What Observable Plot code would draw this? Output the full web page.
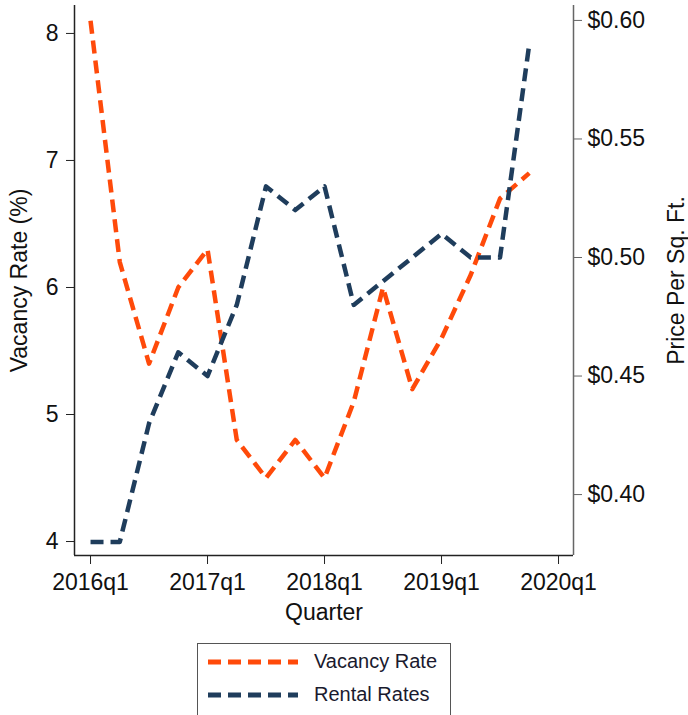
<!DOCTYPE html>
<html>
<head>
<meta charset="utf-8">
<script src="https://cdn.jsdelivr.net/npm/d3@7"></script>
<script src="https://cdn.jsdelivr.net/npm/@observablehq/plot@0.6"></script>
<style>
  html, body { margin: 0; padding: 0; background: #fff; }
  #wrap { position: relative; width: 688px; height: 715px; overflow: hidden; font-family: "Liberation Sans", Arial, sans-serif; }
  #wrap svg { position: absolute; left: 0; top: 0; }
  #legend { position: absolute; left: 197px; top: 643px; width: 254px; height: 90px; border: 1.5px solid #555; box-sizing: border-box; background: #fff; }
  .row { position: absolute; left: 8px; display: flex; align-items: center; font-size: 20px; color: #1a1a2e; }
  .row svg { position: static !important; margin-right: 16px; }
</style>
</head>
<body>
<div id="wrap"><div id="legend"></div></div>
<script>
const quarters = ["2016q1","2016q2","2016q3","2016q4","2017q1","2017q2","2017q3","2017q4",
                  "2018q1","2018q2","2018q3","2018q4","2019q1","2019q2","2019q3","2019q4"];
const vacancyRate = [8.1, 6.2, 5.4, 6.0, 6.3, 4.8, 4.5, 4.8, 4.5, 5.1, 6.0, 5.2, 5.6, 6.1, 6.7, 6.9];
const rentalRates = [0.38, 0.38, 0.43, 0.46, 0.45, 0.48, 0.53, 0.52, 0.53, 0.48, 0.49, 0.50, 0.51, 0.50, 0.50, 0.59];
const xTicks = [2016, 2017, 2018, 2019, 2020];
const leftTicks = [4, 5, 6, 7, 8];
const rightTicks = [0.40, 0.45, 0.50, 0.55, 0.60];
const seriesNames = ["Vacancy Rate", "Rental Rates"];
const colors = ["#ff4a0a", "#1f3d5c"];

const toNum = q => +q.slice(0, 4) + (+q.slice(5) - 1) / 4;
const vacData = quarters.map((q, i) => ({x: toNum(q), y: vacancyRate[i]}));
const rentData = quarters.map((q, i) => ({x: toNum(q), y: rentalRates[i]}));

const W = 688, H = 625;
const margins = {marginLeft: 74, marginRight: 115, marginTop: 5, marginBottom: 70};
const xDomain = [2015.863, 2020.128];
const yLeftDomain = [3.890, 8.220];
const yRightDomain = [0.3743, 0.6063];
const font = {fontSize: "23px", fontFamily: "'Liberation Sans', Arial, sans-serif", background: "transparent", color: "#111"};

const p1 = Plot.plot({
  width: W, height: H, ...margins, style: font,
  x: {domain: xDomain},
  y: {domain: yLeftDomain},
  marks: [
    Plot.ruleX([xDomain[0]], {stroke: "#222", strokeWidth: 1.5}),
    Plot.ruleY([yLeftDomain[0]], {stroke: "#222", strokeWidth: 1.5}),
    Plot.axisX({ticks: xTicks, tickFormat: d => d + "q1", tickSize: 9, tickPadding: 9, fontSize: 23,
      label: "Quarter", labelAnchor: "center", labelArrow: "none", labelOffset: 64, stroke: "#222"}),
    Plot.axisY({ticks: leftTicks, tickFormat: d => String(d), tickSize: 8, tickPadding: 8, fontSize: 23,
      label: "Vacancy Rate (%)", labelAnchor: "center", labelArrow: "none", labelOffset: 64, stroke: "#222"}),
    Plot.line(vacData, {x: "x", y: "y", stroke: colors[0], strokeWidth: 4.5, strokeDasharray: "13,7", strokeLinecap: "butt"})
  ]
});

const p2 = Plot.plot({
  width: W, height: H, ...margins, style: font,
  x: {domain: xDomain, axis: null},
  y: {domain: yRightDomain},
  marks: [
    Plot.ruleX([xDomain[1]], {stroke: "#666", strokeWidth: 1.5}),
    Plot.axisY({anchor: "right", ticks: rightTicks, tickFormat: d => "$" + d.toFixed(2), tickSize: 8, tickPadding: 6, fontSize: 23,
      label: "Price Per Sq. Ft.", labelAnchor: "center", labelArrow: "none", labelOffset: 110, stroke: "#666"}),
    Plot.line(rentData, {x: "x", y: "y", stroke: colors[1], strokeWidth: 4.5, strokeDasharray: "13,7", strokeLinecap: "butt"})
  ]
});

const wrap = document.getElementById("wrap");
wrap.insertBefore(p2, wrap.firstChild);
wrap.insertBefore(p1, wrap.firstChild);

const legend = document.getElementById("legend");
seriesNames.forEach((name, i) => {
  const row = document.createElement("div");
  row.className = "row";
  row.style.top = (i === 0 ? 6 : 39) + "px";
  row.innerHTML = `<svg width="92" height="12"><line x1="2" y1="6" x2="92" y2="6" stroke="${colors[i]}" stroke-width="5" stroke-dasharray="13,7"/></svg><span>${name}</span>`;
  legend.appendChild(row);
});
</script>
</body>
</html>
